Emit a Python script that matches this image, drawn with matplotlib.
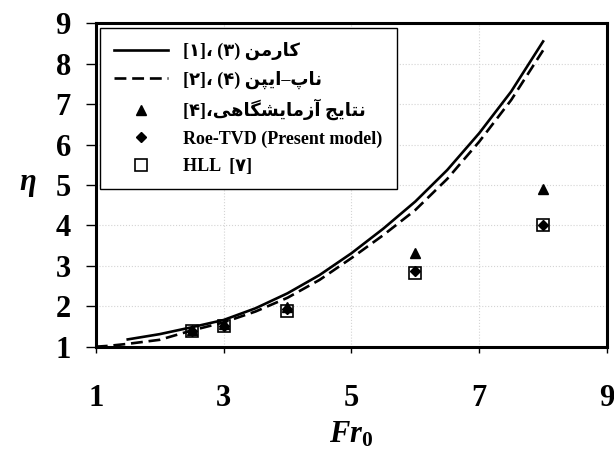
import numpy as np
from matplotlib import pyplot as plt

# data
fr_karman = [1.5, 2.0, 2.5, 3.0, 3.5, 4.0, 4.5, 5.0, 5.5, 6.0, 6.5, 7.0, 7.5, 8.0]
eta_karman = [1.18, 1.31, 1.48, 1.66, 1.95, 2.32, 2.77, 3.31, 3.92, 4.59, 5.37, 6.28, 7.31, 8.55]

fr_knapp = [1.0, 1.2, 1.5, 2.0, 2.5, 3.0, 3.5, 4.0, 4.5, 5.0, 5.5, 6.0, 6.5, 7.0, 7.5, 8.0]
eta_knapp = [1.0, 1.02, 1.07, 1.17, 1.40, 1.60, 1.87, 2.21, 2.65, 3.19, 3.76, 4.38, 5.15, 6.07, 7.10, 8.33]

fr_pts = [2.5, 3, 4, 6, 8]
eta_exp = [1.42, 1.55, 1.99, 3.32, 4.90]
eta_roe = [1.38, 1.52, 1.92, 2.88, 4.00]
eta_hll = [1.40, 1.51, 1.89, 2.82, 4.02]

xticks = [1, 3, 5, 7, 9]
yticks = [1, 2, 3, 4, 5, 6, 7, 8, 9]

# minimal persian shaping (matplotlib has no complex text layout)
FORMS = {  # iso, fin, ini, med
    'ک': ('\uFB8E', '\uFB8F', '\uFB90', '\uFB91'),
    'گ': ('\uFB92', '\uFB93', '\uFB94', '\uFB95'),
    'پ': ('\uFB56', '\uFB57', '\uFB58', '\uFB59'),
    'ی': ('\uFBFC', '\uFBFD', '\uFBFE', '\uFBFF'),
    'ا': ('\uFE8D', '\uFE8E', None, None),
    'آ': ('\uFE81', '\uFE82', None, None),
    'ر': ('\uFEAD', '\uFEAE', None, None),
    'ز': ('\uFEAF', '\uFEB0', None, None),
    'م': ('\uFEE1', '\uFEE2', '\uFEE3', '\uFEE4'),
    'ن': ('\uFEE5', '\uFEE6', '\uFEE7', '\uFEE8'),
    'ت': ('\uFE95', '\uFE96', '\uFE97', '\uFE98'),
    'ج': ('\uFE9D', '\uFE9E', '\uFE9F', '\uFEA0'),
    'ش': ('\uFEB5', '\uFEB6', '\uFEB7', '\uFEB8'),
    'ه': ('\uFEE9', '\uFEEA', '\uFEEB', '\uFEEC'),
}


def fa(text):
    out = []
    for i, c in enumerate(text):
        if c not in FORMS:
            out.append(c)
            continue
        prv = i > 0 and text[i-1] in FORMS and FORMS[text[i-1]][2] is not None
        nxt = (i < len(text)-1 and text[i+1] in FORMS and FORMS[c][2] is not None)
        iso, fin, ini, med = FORMS[c]
        if prv and nxt:
            out.append(med)
        elif prv:
            out.append(fin)
        elif nxt:
            out.append(ini)
        else:
            out.append(iso)
    return ''.join(reversed(out))


labels = ['[۱]، (۳) ' + fa('کارمن'),
          '[۲]، (۴) ' + fa('ناپ–ایپن'),
          '[۴]،' + fa('نتایج آزمایشگاهی'),
          'Roe-TVD (Present model)',
          'HLL  [۷]']

plt.rcParams['font.family'] = ['Liberation Serif', 'DejaVu Sans']
plt.rcParams['font.weight'] = 'bold'
plt.rcParams['mathtext.fontset'] = 'custom'
plt.rcParams['mathtext.it'] = 'Liberation Serif:italic:bold'
plt.rcParams['mathtext.rm'] = 'Liberation Serif:bold'

fig = plt.figure(figsize=(6.14, 4.53), dpi=100)
ax = fig.add_axes([0.156, 0.2347, 0.8326, 0.714])

ax.plot(fr_karman, eta_karman, color='black', lw=1.9, label=labels[0])
ax.plot(fr_knapp, eta_knapp, color='black', lw=1.9, dashes=(4.5, 2.2), label=labels[1])
ax.plot(fr_pts, eta_exp, ls='none', marker='^', color='black', ms=7, label=labels[2])
ax.plot(fr_pts, eta_roe, ls='none', marker='D', color='black', ms=5, label=labels[3])
ax.plot(fr_pts, eta_hll, ls='none', marker='s', mfc='none', mec='black', mew=1.2, ms=8, label=labels[4])

ax.set_xlim(1, 9)
ax.set_ylim(1, 9)
ax.set_xticks(xticks)
ax.set_yticks(yticks)
ax.grid(True, color='#d4d4d4', ls=':', lw=0.8)
ax.set_axisbelow(True)
for sp in ax.spines.values():
    sp.set_linewidth(2.2)

ax.tick_params(axis='x', length=4, width=1, pad=23, labelsize=22)
ax.tick_params(axis='y', length=7, width=1, pad=11, labelsize=22)

ax.set_xlabel(r'$Fr_0$', fontsize=22, labelpad=5)
ax.set_ylabel(r'$\eta$', fontsize=22, rotation=0, labelpad=20, va='center')

leg = ax.legend(loc='upper left', bbox_to_anchor=(0.008, 0.986), borderaxespad=0,
                fontsize=13, frameon=True, fancybox=False, edgecolor='black',
                framealpha=1, handlelength=3.0, labelspacing=0.56,
                handletextpad=0.8, borderpad=0.8)
leg.get_frame().set_linewidth(1.0)

fig.savefig('out.png', dpi=100)
